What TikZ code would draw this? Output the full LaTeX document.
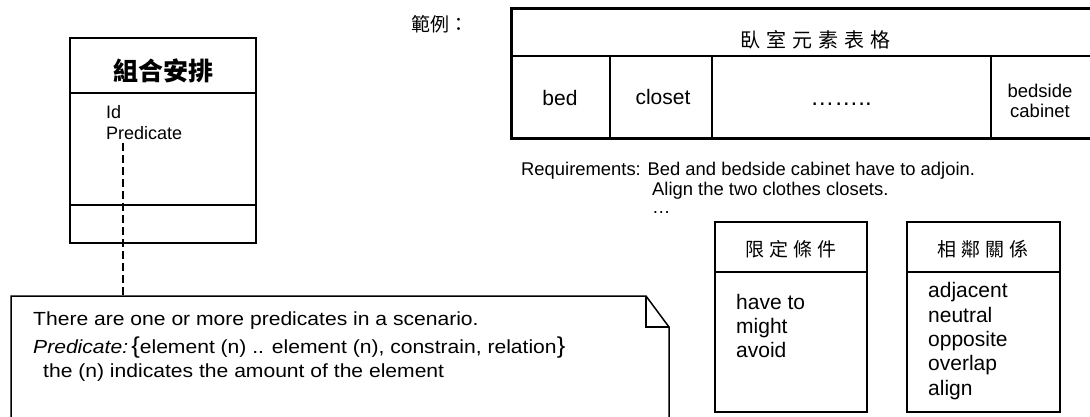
\documentclass[tikz,border=0pt]{standalone}
\usepackage{fontspec}
\setmainfont{Liberation Sans}
\newfontfamily\cjk{Noto Sans CJK TC}
\newfontfamily\notefont[FakeStretch=1.11]{Liberation Sans}
\begin{document}
\begin{tikzpicture}[x=1pt,y=-1pt,
  txt/.style={inner sep=0pt, anchor=base west, font=\fontsize{18}{22}\selectfont},
  itm/.style={inner sep=0pt, anchor=base west, font=\fontsize{21}{24}\selectfont},
  ntxt/.style={inner sep=0pt, anchor=base west, font=\notefont\fontsize{19}{22}\selectfont},
  rtxt/.style={inner sep=0pt, anchor=base west, font=\fontsize{18.4}{22}\selectfont},
  ctxt/.style={inner sep=0pt, anchor=base, font=\fontsize{21}{24}\selectfont},
  cjkt/.style={inner sep=0pt, anchor=center, font=\cjk\fontsize{19}{22}\selectfont},
  frame/.style={draw, line width=2pt, inner sep=0pt, outer sep=0pt, anchor=north west},
  sep/.style={line width=1.6pt},
  conn/.style={line width=1.5pt, dash pattern=on 8pt off 4pt}]
\useasboundingbox (0,0) rectangle (1090,416);

% class box
\node[frame, minimum width=186pt, minimum height=205pt] (cls) at (70,38) {};
\draw[sep] (70,93) -- (256,93);
\draw[sep] (70,205) -- (256,205);
\node[cjkt, font=\cjk\bfseries\fontsize{25}{28}\selectfont] (clstitle) at (163,71) {組合安排};
\node[txt] (id) at (106,118) {Id};
\node[txt] (pred) at (106,139) {Predicate};

% note
\draw[line width=1.5pt] (11,418) -- (11,296) -- (646,296) -- (669,327) -- (669,418);
\draw[line width=1.5pt] (646,296) -- (646,327) -- (669,327);
\coordinate (dtop) at (123,143);
\coordinate (notetop) at (123,296);
\draw[conn] (dtop) -- (notetop);
\node[ntxt] (n1) at (33,325) {There are one or more predicates in a scenario.};
\node[ntxt] (n2) at (33,353) {\textit{Predicate:}\,{\fontsize{23}{22}\selectfont\{}element (n) .. element (n), constrain, relation{\fontsize{23}{22}\selectfont\}}};
\node[ntxt] (n3) at (43,377) {the (n) indicates the amount of the element};

% example label
\node[cjkt, anchor=west] (ex) at (411,24) {範例：};

% table
\node[draw, line width=3pt, inner sep=0pt, anchor=north west, minimum width=590pt, minimum height=130pt] (tab) at (510,7) {};
\draw[line width=2pt] (510,56) -- (1095,56);
\draw[line width=1.5pt] (610,56) -- (610,137);
\draw[line width=1.5pt] (712,56) -- (712,137);
\draw[line width=1.5pt] (991,56) -- (991,137);
\node[cjkt, font=\cjk\fontsize{20}{22}\selectfont] (tabtitle) at (815,40) {臥\hspace{6pt}室\hspace{6pt}元\hspace{6pt}素\hspace{6pt}表\hspace{6pt}格};
\node[ctxt] (bed) at (560,105) {bed};
\node[ctxt] (closet) at (663,104) {closet};
\node[ctxt, font=\fontsize{24}{24}\selectfont] (dots) at (841,105) {……..};
\node[ctxt, font=\fontsize{18.5}{20}\selectfont] (bside1) at (1040,97) {bedside};
\node[ctxt, font=\fontsize{18.5}{20}\selectfont] (bside2) at (1040,117) {cabinet};

% requirements
\node[rtxt] (req1) at (521,175) {Requirements: Bed and bedside cabinet have to adjoin.};
\node[rtxt] (req2) at (652,195) {Align the two clothes closets.};
\node[rtxt] (req3) at (652,213) {…};

% constraint box
\node[frame, minimum width=152pt, minimum height=190pt] (cbox) at (715,222) {};
\draw[sep] (715,272) -- (867,272);
\node[cjkt] (ctitle) at (791,249) {限\hspace{5pt}定\hspace{5pt}條\hspace{5pt}件};
\node[itm] (c1) at (736,309) {have to};
\node[itm] (c2) at (736,333) {might};
\node[itm] (c3) at (736,357) {avoid};

% relation box
\node[frame, minimum width=153pt, minimum height=190pt] (rbox) at (907,222) {};
\draw[sep] (907,272) -- (1060,272);
\node[cjkt] (rtitle) at (983,249) {相\hspace{5pt}鄰\hspace{5pt}關\hspace{5pt}係};
\node[itm] (r1) at (928,297) {adjacent};
\node[itm] (r2) at (928,322) {neutral};
\node[itm] (r3) at (928,346) {opposite};
\node[itm] (r4) at (928,370) {overlap};
\node[itm] (r5) at (928,395) {align};
\end{tikzpicture}
\end{document}
